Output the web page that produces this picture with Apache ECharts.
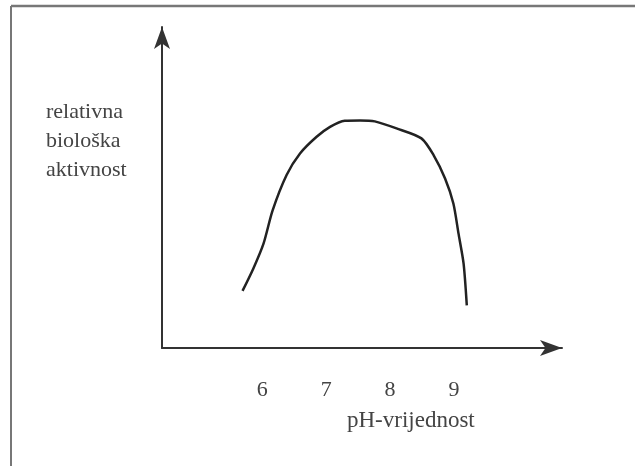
<!DOCTYPE html>
<html>
<head>
<meta charset="utf-8">
<script src="https://cdn.jsdelivr.net/npm/echarts@6/dist/echarts.min.js"></script>
<style>
html,body{margin:0;padding:0;background:#fff;}
#chart{width:635px;height:466px;}
</style>
</head>
<body>
<div id="chart"></div>
<script>
// pH values (x) and relative biological activity (y, arbitrary 0-100 scale)
const phValues = [5.69, 5.86, 6.02, 6.16, 6.38, 6.59, 6.85, 7.06, 7.29, 7.53, 7.76, 8.10, 8.49, 8.68, 8.86, 8.99, 9.07, 9.15, 9.20];
const activity = [17.8, 24.8, 32.6, 42.8, 53.9, 60.6, 65.8, 68.9, 70.8, 70.9, 70.6, 68.4, 65.3, 60.1, 52.8, 45.0, 35.7, 26.3, 13.3];
const tickLabels = [6, 7, 8, 9];
const xAxisName = 'pH-vrijednost';
const yAxisName = 'relativna\nbiološka\naktivnost';

const chart = echarts.init(document.getElementById('chart'), null, {renderer: 'canvas'});
const serif = '"Liberation Serif", "DejaVu Serif", serif';
chart.setOption({
  backgroundColor: '#ffffff',
  animation: false,
  grid: {left: 162, right: 73, top: 27, bottom: 118, containLabel: false},
  xAxis: {
    type: 'value',
    min: 4.43,
    max: 10.69,
    axisLine: {show: true, symbol: ['none', 'arrow'], symbolSize: [12, 22], lineStyle: {color: '#333', width: 2}},
    axisTick: {show: false},
    splitLine: {show: false},
    axisLabel: {
      customValues: tickLabels,
      margin: 31,
      fontFamily: serif,
      fontSize: 22,
      color: '#444'
    }
  },
  yAxis: {
    type: 'value',
    min: 0,
    max: 100,
    axisLine: {show: true, symbol: ['none', 'arrow'], symbolSize: [12, 22], lineStyle: {color: '#333', width: 2}},
    axisTick: {show: false},
    splitLine: {show: false},
    axisLabel: {show: false}
  },
  graphic: [
    {type: 'line', shape: {x1: 11, y1: 6, x2: 635, y2: 6}, style: {stroke: '#777', lineWidth: 2.5}},
    {type: 'line', shape: {x1: 11, y1: 6, x2: 11, y2: 466}, style: {stroke: '#777', lineWidth: 2}},
    {type: 'text', left: 46, top: 98, style: {text: yAxisName, font: '22px ' + serif, fill: '#444', lineHeight: 29}},
    {type: 'text', left: 347, top: 409, style: {text: xAxisName, font: '23px ' + serif, fill: '#444'}}
  ],
  series: [{
    type: 'line',
    data: phValues.map((x, i) => [x, activity[i]]),
    smooth: 0.25,
    showSymbol: false,
    lineStyle: {color: '#222', width: 2.5}
  }]
});
</script>
</body>
</html>
